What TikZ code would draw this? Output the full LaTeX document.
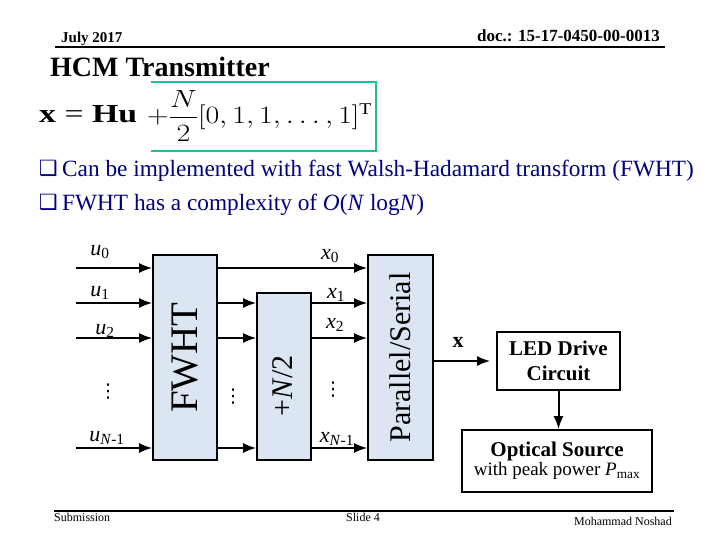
\documentclass[tikz,border=0pt]{standalone}
\usepackage{amsmath}
\usepackage{fontspec}
\setmainfont{Liberation Serif}
\newfontfamily\symfont{DejaVu Sans}
\usetikzlibrary{arrows.meta, positioning}
\definecolor{boxblue}{RGB}{220,230,242}
\definecolor{eqgreen}{RGB}{30,190,150}
\definecolor{bulletnavy}{RGB}{0,0,128}
\tikzset{
  sig/.style={line width=2pt, -{Latex[length=13pt,width=10pt]}},
  block/.style={draw, line width=1.6pt, fill=boxblue, inner sep=0pt},
  wbox/.style={draw, line width=1.6pt, fill=white, align=center, inner sep=0pt},
  lbl/.style={font=\fontsize{22}{24}\selectfont, inner sep=0pt},
  vdot/.style={font=\fontsize{19}{19}\symfont, inner sep=0pt},
}

\begin{document}
\begin{tikzpicture}[x=1pt, y=-1pt]
        \useasboundingbox[fill=white] (0,0) rectangle (720,540);

        % Intestazione
        \node[anchor=base west, inner sep=0pt, font=\fontsize{15}{18}\selectfont\bfseries] (date) at (61,43) {July 2017};
        \node[anchor=base east, inner sep=0pt, font=\fontsize{17}{20}\selectfont\bfseries] (doc) at (660,42) {doc.: 15-17-0450-00-0013};
        \draw[line width=2pt] (55,47) -- (665,47);
        \node[anchor=base west, inner sep=0pt, font=\fontsize{28}{32}\selectfont\bfseries] (title) at (50,77) {HCM Transmitter};

        % Equazione
        \draw[eqgreen, line width=2.5pt] (151,82) -- (376,82) -- (376,151) -- (151,151);
        \node[anchor=base west, inner sep=0pt, font=\fontsize{26}{30}\selectfont] (eqa) at (39,123) {\scalebox{1.3}[1]{\textbf{x} = \textbf{Hu}}};
        \node[anchor=base west, inner sep=0pt, font=\fontsize{23.5}{28}\selectfont] (eqb) at (147,124) {\scalebox{1.2}[1]{$+\dfrac{N}{2}[0,1,1,\ldots,1]^{\mathrm{T}}$}};

        % Punti elenco
        \node[anchor=base west, inner sep=0pt, text=bulletnavy, font=\fontsize{23.3}{28}\selectfont] (item1) at (62,177) {Can be implemented with fast Walsh-Hadamard transform (FWHT)};
        \node[anchor=base west, inner sep=0pt, text=bulletnavy, font=\fontsize{23.3}{28}\selectfont] (item2) at (62,211) {FWHT has a complexity of \textit{O}(\textit{N} log\textit{N})};
        \node[anchor=base east, inner sep=0pt, text=bulletnavy, font=\fontsize{21}{24}\symfont] (mark1) at ([xshift=-4pt,yshift=1pt]item1.base west) {❑};
        \node[anchor=base east, inner sep=0pt, text=bulletnavy, font=\fontsize{21}{24}\symfont] (mark2) at ([xshift=-4pt,yshift=1pt]item2.base west) {❑};

        % Blocchi
        \node[block, minimum width=64pt, minimum height=205pt] (fwht) at (185,357.5) {};
        \node[rotate=90, inner sep=0pt, font=\fontsize{39}{40}\selectfont] (fwhttxt) at (fwht.center) {FWHT};
        \node[block, minimum width=54pt, minimum height=167pt] (plus) at (284,376.5) {};
        \node[rotate=90, inner sep=0pt, font=\fontsize{30}{32}\selectfont] (plustxt) at (283,386) {+\textit{N}/2};
        \node[block, minimum width=65pt, minimum height=205pt] (ps) at (400.5,357.5) {};
        \node[rotate=90, inner sep=0pt, font=\fontsize{30}{32}\selectfont] (pstxt) at (ps.center) {Parallel/Serial};
        \node[wbox, minimum width=123pt, minimum height=58pt, font=\fontsize{21}{25}\selectfont\bfseries] (led) at (558.5,361) {LED Drive\\Circuit};
        \node[wbox, minimum width=190pt, minimum height=62pt] (optical) at (557,461) {{\fontsize{21}{25}\selectfont\bfseries Optical Source}\\{\fontsize{19}{22}\selectfont with peak power \textit{P}\textsubscript{max}}};

        % Ingressi e uscite
        \foreach \r/\y in {0/268, 1/303, 2/338, 3/448}
            \coordinate (in\r) at (76,\y);
        \foreach \r in {0,...,3}
            \draw[sig] (in\r) -- (in\r -| fwht.west);
        \draw[sig] (fwht.east |- in0) -- (ps.west |- in0);
        \foreach \r in {1,2,3} {
            \draw[sig] (fwht.east |- in\r) -- (plus.west |- in\r);
            \draw[sig] (plus.east |- in\r) -- (ps.west |- in\r);
        }
        \draw[sig, shorten >=6pt] (ps.east |- led.west) -- (led.west);
        \draw[sig] (led.south) -- (led.south |- optical.north);

        % Etichette
        \node[lbl] (u0) at (100,252) {\textit{u}\textsubscript{0}};
        \node[lbl] (u1) at (100,293) {\textit{u}\textsubscript{1}};
        \node[lbl] (u2) at (105,331) {\textit{u}\textsubscript{2}};
        \node[lbl] (un) at (107,438) {\textit{u}\textsubscript{\textit{N}-1}};
        \node[lbl] (x0) at (330,256) {\textit{x}\textsubscript{0}};
        \node[lbl] (x1) at (336,295) {\textit{x}\textsubscript{1}};
        \node[lbl] (x2) at (335,325) {\textit{x}\textsubscript{2}};
        \node[lbl] (xn) at (337,439) {\textit{x}\textsubscript{\textit{N}-1}};
        \node[lbl, font=\fontsize{22}{24}\selectfont\bfseries] (xvec) at (458,342) {x};
        \node[vdot] (udots) at (108,392) {⋮};
        \node[vdot] (mdots) at (233,397) {⋮};
        \node[vdot] (xdots) at (333,390) {⋮};

        % Piede
        \draw[line width=2pt] (54,511) -- (674,511);
        \node[anchor=base west, inner sep=0pt, font=\fontsize{12}{14}\selectfont] (sub) at (54,521) {Submission};
        \node[anchor=base west, inner sep=0pt, font=\fontsize{12}{14}\selectfont] (slide) at (346,521) {Slide 4};
        \node[anchor=base east, inner sep=0pt, font=\fontsize{12}{14}\selectfont] (author) at (672,525) {Mohammad Noshad};
    \end{tikzpicture}
\end{document}
